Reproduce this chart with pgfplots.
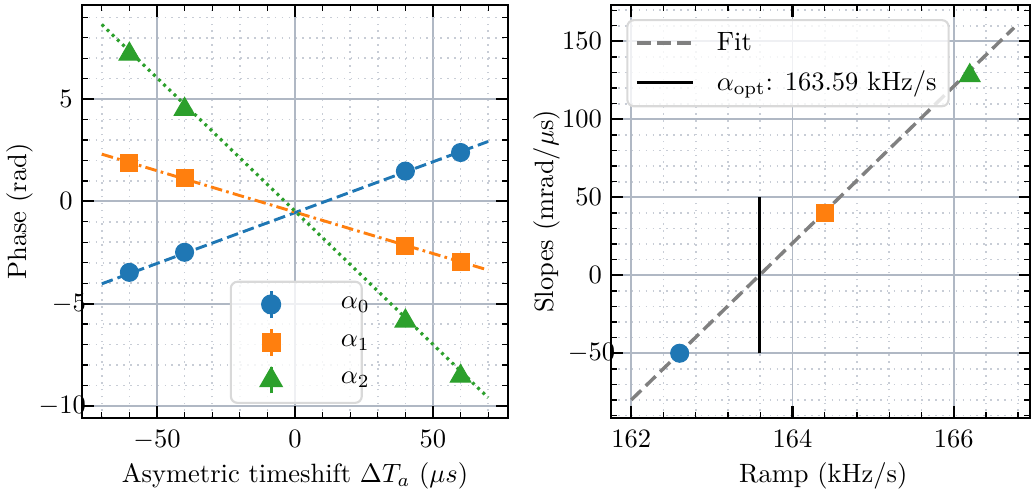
\documentclass[border=0pt]{standalone}
\usepackage{pgfplots}
\pgfplotsset{compat=1.18}
\definecolor{c0}{HTML}{1F77B4}
\definecolor{c1}{HTML}{FF7F0E}
\definecolor{c2}{HTML}{2CA02C}
\definecolor{gridc}{HTML}{B0B8C4}
\pgfplotsset{
  sci/.style={
    scale only axis,
    tick align=inside,
    major tick length=4.4pt,
    minor tick length=2.2pt,
    every major tick/.append style={black, line width=0.8pt},
    every minor tick/.append style={black, line width=0.5pt},
    axis line style={line width=0.9pt},
    grid=both,
    major grid style={gridc, line width=0.7pt, solid},
    minor grid style={gridc!70, line width=0.6pt, dotted},
    xticklabel style={yshift=-1.2pt},
    legend cell align=left,
  }
}
\begin{document}
\begin{tikzpicture}
\useasboundingbox (0,0) rectangle (389pt,185.7pt);
% ---------------- left panel ----------------
\begin{axis}[sci, at={(30.9pt,28pt)}, anchor=south west,
  width=160.8pt, height=155.8pt,
  xmin=-77.2, xmax=77.2, ymin=-10.59, ymax=9.6,
  xtick={-50,0,50}, xticklabels={$-50$,$0$,$50$},
  minor xtick={-70,-60,...,70},
  ytick={-10,-5,0,5}, yticklabels={{$-10$\kern-5pt},{$-5$\kern-5pt},$0$,$5$},
  minor ytick={-10,-9,...,9},
  xlabel={Asymetric timeshift $\Delta T_a$ ($\mu s$)},
  ylabel={Phase (rad)},
  x label style={at={(axis description cs:0.5,-0.14)}, anchor=center},
  y label style={at={(axis description cs:-0.146,0.5)}, anchor=center},
  legend style={at={(axis description cs:0.347,0.034)}, anchor=south west,
    fill=white, fill opacity=0.8, draw opacity=1, text opacity=1,
    draw=gray!30, line width=0.8pt, rounded corners=2.5pt,
    row sep=3.2pt, inner xsep=3pt, inner ysep=3pt,
    nodes={inner sep=1pt}},
]
% fits
\addplot[c0, line width=1.1pt, dash pattern=on 4.4pt off 1.9pt, forget plot] coordinates {(-70,-4.03) (70,2.93)};
\addplot[c1, line width=1.1pt, dash pattern=on 4.4pt off 1.6pt on 1pt off 1.6pt, forget plot] coordinates {(-70,2.31) (70,-3.36)};
\addplot[c2, line width=1.2pt, dash pattern=on 1.1pt off 1.6pt, forget plot] coordinates {(-70,8.65) (70,-9.6)};
% data
\addplot[only marks, mark=*, c0, mark size=3.4pt,
  legend image code/.code={
    \draw[c0, line width=1.1pt, draw opacity=1, sharp corners] (0.415cm,-5pt) -- (0.415cm,5pt);
    \fill[c0, fill opacity=1] (0.415cm,0) circle (3.4pt);
    \path (0,0) (1.15cm,0);}]
  coordinates {(-60,-3.47) (-40,-2.49) (40,1.48) (60,2.39)};
\addlegendentry{\hspace{4pt}$\alpha_0$\kern-7pt}
\addplot[only marks, mark=square*, c1, mark size=3.2pt,
  legend image code/.code={
    \draw[c1, line width=1.1pt, draw opacity=1, sharp corners] (0.415cm,-5pt) -- (0.415cm,5pt);
    \fill[c1, fill opacity=1, sharp corners] (0.415cm-3.2pt,-3.2pt) rectangle (0.415cm+3.2pt,3.2pt);
    \path (0,0) (1.15cm,0);}]
  coordinates {(-60,1.89) (-40,1.12) (40,-2.17) (60,-2.95)};
\addlegendentry{\hspace{4pt}$\alpha_1$\kern-7pt}
\addplot[only marks, mark=triangle*, c2, mark size=4.5pt,
  legend image code/.code={
    \draw[c2, line width=1.1pt, draw opacity=1, sharp corners] (0.415cm,-5pt) -- (0.415cm,5pt);
    \fill[c2, fill opacity=1, sharp corners] (0.415cm,4.5pt) -- (0.415cm-3.9pt,-2.25pt) -- (0.415cm+3.9pt,-2.25pt) -- cycle;
    \path (0,0) (1.15cm,0);}]
  coordinates {(-60,7.2) (-40,4.5) (40,-5.85) (60,-8.55)};
\addlegendentry{\hspace{4pt}$\alpha_2$\kern-7pt}
\end{axis}
% ---------------- right panel ----------------
\begin{axis}[sci, at={(230.6pt,28pt)}, anchor=south west,
  width=158.1pt, height=155.8pt,
  xmin=161.75, xmax=166.95, ymin=-91.5, ymax=173.3,
  xtick={162,164,166}, xticklabels={$162$,$164$,$166$},
  minor xtick={162,162.4,...,166.9},
  ytick={-50,0,50,100,150}, yticklabels={{$-50$\kern-5pt},$0$,$50$,$100$,$150$},
  minor ytick={-90,-80,...,170},
  xlabel={Ramp (kHz/s)},
  ylabel={Slopes (mrad/$\mu$s)},
  x label style={at={(axis description cs:0.506,-0.14)}, anchor=center},
  y label style={at={(axis description cs:-0.154,0.5)}, anchor=center},
  legend style={at={(axis description cs:0.036,0.966)}, anchor=north west,
    fill=white, fill opacity=0.8, draw opacity=1, text opacity=1,
    draw=gray!30, line width=0.8pt, rounded corners=2.5pt,
    row sep=3.2pt, inner xsep=3pt, inner ysep=3pt,
    nodes={inner sep=1.5pt}},
  legend image code/.code={\draw[#1, sharp corners, draw opacity=1] (0pt,0pt) -- (21pt,0pt); \path (0,0) (28pt,0);},
]
\addplot[gray, line width=1.3pt, dash pattern=on 5.2pt off 2.4pt] coordinates {(162,-79.9) (166.75,158.8)};
\addlegendentry{Fit}
\addplot[black, line width=1.1pt] coordinates {(163.59,-50) (163.59,50)};
\addlegendentry{$\alpha_{\mathrm{opt}}$: 163.59 kHz/s}
\addplot[only marks, mark=*, c0, mark size=3.4pt, forget plot] coordinates {(162.6,-50)};
\addplot[only marks, mark=square*, c1, mark size=3.2pt, forget plot] coordinates {(164.4,40)};
\addplot[only marks, mark=triangle*, c2, mark size=4.5pt, forget plot] coordinates {(166.2,128)};
\end{axis}
\end{tikzpicture}
\end{document}
